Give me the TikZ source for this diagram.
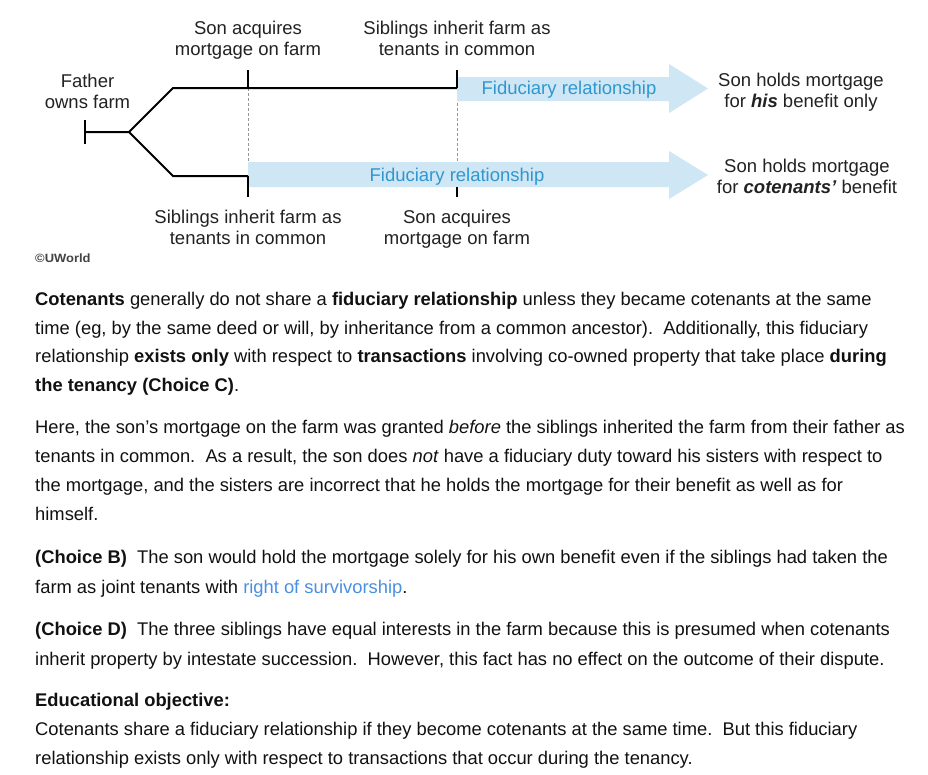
\documentclass[tikz,border=0pt]{standalone}
\usepackage{fontspec}
\setmainfont{Liberation Sans}
\definecolor{bandfill}{RGB}{207,231,244}
\definecolor{bandtext}{RGB}{47,151,208}
\definecolor{linkblue}{RGB}{74,144,226}
\definecolor{bodytext}{RGB}{17,17,17}
\definecolor{dgray}{RGB}{34,34,34}
\definecolor{dotgray}{RGB}{150,150,150}
\newcommand{\dlbl}[2]{\begin{tabular}[t]{@{}c@{}}#1\\#2\end{tabular}}
\begin{document}
\begin{tikzpicture}[x=1pt,y=-1pt,
  tl/.style={line width=2pt,draw=black,line join=miter},
  tick/.style={line width=1.3pt,draw=black},
  dotline/.style={line width=1pt,draw=dotgray,dash pattern=on 3pt off 2pt},
  band/.style={fill=bandfill,draw=none},
  dlab/.style={inner sep=0pt,anchor=base,text=dgray,font=\fontsize{18.5}{21}\selectfont},
  flab/.style={inner sep=0pt,anchor=base,text=bandtext,font=\fontsize{18.5}{21}\selectfont},
  body/.style={inner sep=0pt,anchor=base west,text=bodytext,font=\fontsize{18.35}{21}\selectfont}]
\useasboundingbox[fill=white] (0,0) rectangle (928,774);

% coordinates
\coordinate (fbt) at (85,120);
\coordinate (fbb) at (85,144);
\coordinate (f0) at (85,132);
\coordinate (br) at (129,132);
\coordinate (u0) at (173,88);
\coordinate (l0) at (173,176);
\coordinate (ua) at (248,88);
\coordinate (ub) at (457,88);
\coordinate (la) at (248,176);
\coordinate (uat) at (248,70);
\coordinate (ubt) at (457,70);
\coordinate (lab) at (248,197);
\coordinate (lbt) at (457,187);
\coordinate (lbb) at (457,197);
\coordinate (uad) at (248,162);

% dotted guides
\draw[dotline] (ua) -- (uad);
\draw[dotline] (ub) -- (lbt);

% bands
\fill[band] (457,77) -- (669,77) -- (669,64) -- (708,88.5) -- (669,113) -- (669,101) -- (457,101) -- cycle;
\fill[band] (248,162) -- (669,162) -- (669,151) -- (708,175) -- (669,199) -- (669,187) -- (248,187) -- cycle;

% timeline
\draw[tick] (fbt) -- (fbb);
\draw[tl] (f0) -- (br) -- (u0) -- (ub);
\draw[tl] (br) -- (l0) -- (la);
\draw[tick] (uat) -- (ua);
\draw[tick] (ubt) -- (ub);
\draw[tick] (la) -- (lab);
\draw[tick] (lbt) -- (lbb);

% diagram labels
\node[dlab] (t1) at (248,34) {\dlbl{Son acquires}{mortgage on farm}};
\node[dlab] (t2) at (457,34) {\dlbl{Siblings inherit farm as}{tenants in common}};
\node[dlab] (fa) at (87.5,87) {\dlbl{Father}{owns farm}};
\node[dlab] (b1) at (248,223) {\dlbl{Siblings inherit farm as}{tenants in common}};
\node[dlab] (b2) at (457,223) {\dlbl{Son acquires}{mortgage on farm}};
\node[flab] (fr1) at (569,94) {Fiduciary relationship};
\node[flab] (fr2) at (457,181) {Fiduciary relationship};
\node[dlab] (r1) at (801,86) {\dlbl{Son holds mortgage}{for \textbf{\textit{his}} benefit only}};
\node[dlab] (r2) at (807,172) {\dlbl{Son holds mortgage}{for \textbf{\textit{cotenants'}} benefit}};
\node[inner sep=0pt,anchor=base west,text=dgray!85,font=\fontsize{12}{14}\selectfont\bfseries] (cw) at (35,262) {\scalebox{1.08}[1]{©UWorld}};

% body text
\node[body] (p1a) at (35,305) {\textbf{Cotenants} generally do not share a \textbf{fiduciary relationship} unless they became cotenants at the same};
\node[body] (p1b) at (35,334) {time (eg, by the same deed or will, by inheritance from a common ancestor).\ \ Additionally, this fiduciary};
\node[body] (p1c) at (35,362) {relationship \textbf{exists only} with respect to \textbf{transactions} involving co-owned property that take place \textbf{during}};
\node[body] (p1d) at (35,391) {\textbf{the tenancy (Choice C)}.};

\node[body] (p2a) at (35,433) {Here, the son's mortgage on the farm was granted \textit{before} the siblings inherited the farm from their father as};
\node[body] (p2b) at (35,462) {tenants in common.\ \ As a result, the son does \textit{not} have a fiduciary duty toward his sisters with respect to};
\node[body] (p2c) at (35,491) {the mortgage, and the sisters are incorrect that he holds the mortgage for their benefit as well as for};
\node[body] (p2d) at (35,520) {himself.};

\node[body] (p3a) at (35,563) {\textbf{(Choice B)}\ \ The son would hold the mortgage solely for his own benefit even if the siblings had taken the};
\node[body] (p3b) at (35,593) {farm as joint tenants with \textcolor{linkblue}{right of survivorship}.};

\node[body] (p4a) at (35,635) {\textbf{(Choice D)}\ \ The three siblings have equal interests in the farm because this is presumed when cotenants};
\node[body] (p4b) at (35,665) {inherit property by intestate succession.\ \ However, this fact has no effect on the outcome of their dispute.};

\node[body] (eo) at (35,706) {\textbf{Educational objective:}};
\node[body] (p5a) at (35,735) {Cotenants share a fiduciary relationship if they become cotenants at the same time.\ \ But this fiduciary};
\node[body] (p5b) at (35,764) {relationship exists only with respect to transactions that occur during the tenancy.};
\end{tikzpicture}
\end{document}
